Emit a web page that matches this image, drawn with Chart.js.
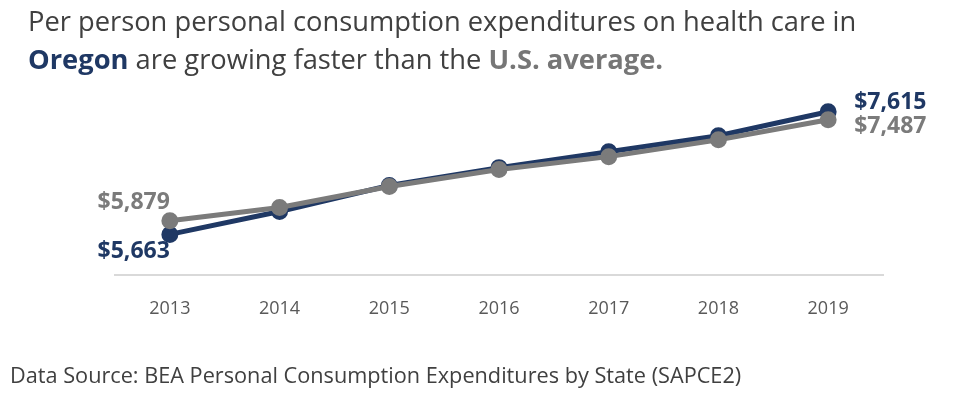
<!DOCTYPE html>
<html lang="en">
<head>
<meta charset="UTF-8">
<title>Health care PCE per person</title>
<script src="https://cdn.jsdelivr.net/npm/chart.js"></script>
<style>
  body { margin: 0; background: #fff; font-family: "Open Sans", sans-serif; }
  .wrap { position: relative; width: 962px; height: 397px; overflow: hidden; }
  .title {
    position: absolute; left: 28px; top: 2px;
    font-size: 27.3px; line-height: 38px; color: #404040;
  }
  .title .or { color: #1f3864; font-weight: 700; }
  .title .us { color: #767676; font-weight: 700; }
  .source {
    position: absolute; left: 10px; top: 360px;
    font-size: 21.7px; color: #404040;
  }
  #chart { position: absolute; left: 0; top: 0; }
</style>
</head>
<body>
<div class="wrap">
  <canvas id="chart" width="962" height="364"></canvas>
  <div class="title">Per person personal consumption expenditures on health care in<br>
    <span class="or">Oregon</span> are growing faster than the <span class="us">U.S. average.</span></div>
  <div class="source">Data Source: BEA Personal Consumption Expenditures by State (SAPCE2)</div>
</div>

<script>
// data (dollars per person)
const years = ['2013', '2014', '2015', '2016', '2017', '2018', '2019'];
const oregonValues = [5663, 6028, 6441, 6726, 6980, 7234, 7615];
const usValues = [5879, 6092, 6425, 6695, 6901, 7171, 7487];

const blue = '#1f3864';
const gray = '#7b7b7b';

// labels on the first and last points of each line
const endLabels = {
  id: 'endLabels',
  afterDatasetsDraw(chart) {
    const ctx = chart.ctx;
    ctx.save();
    ctx.font = 'bold 23px "Open Sans", sans-serif';
    ctx.textBaseline = 'middle';
    chart.data.datasets.forEach((ds, i) => {
      const pts = chart.getDatasetMeta(i).data;
      const first = pts[0], last = pts[pts.length - 1];
      const fmt = v => '$' + v.toLocaleString('en-US');
      const isOr = ds.label === 'Oregon';
      ctx.fillStyle = ds.borderColor;
      ctx.textAlign = 'right';
      ctx.fillText(fmt(ds.data[0]), first.x, first.y + (isOr ? 17 : -18));
      ctx.textAlign = 'left';
      ctx.fillText(fmt(ds.data[ds.data.length - 1]), last.x + 26, last.y + (isOr ? -9 : 7));
    });
    ctx.restore();
  }
};

new Chart(document.getElementById('chart'), {
  type: 'line',
  data: {
    labels: years,
    datasets: [
      {
        label: 'Oregon',
        data: oregonValues,
        borderColor: blue,
        backgroundColor: blue,
        borderWidth: 5,
        pointRadius: 6,
        pointHoverRadius: 6,
        order: 2
      },
      {
        label: 'U.S.',
        data: usValues,
        borderColor: gray,
        backgroundColor: gray,
        borderWidth: 5,
        pointRadius: 6,
        pointHoverRadius: 6,
        order: 1
      }
    ]
  },
  options: {
    responsive: false,
    animation: false,
    layout: { padding: { left: 115, right: 79, top: 90, bottom: 21 } },
    plugins: { legend: { display: false }, tooltip: { enabled: false } },
    scales: {
      x: {
        offset: true,
        grid: { display: false, drawTicks: false },
        border: { display: true, color: '#d9d9d9', width: 2 },
        ticks: { color: '#595959', font: { family: 'Open Sans', size: 18 }, padding: 23 }
      },
      y: { display: false, min: 5010, max: 7962 }
    }
  },
  plugins: [endLabels]
});
</script>
</body>
</html>
